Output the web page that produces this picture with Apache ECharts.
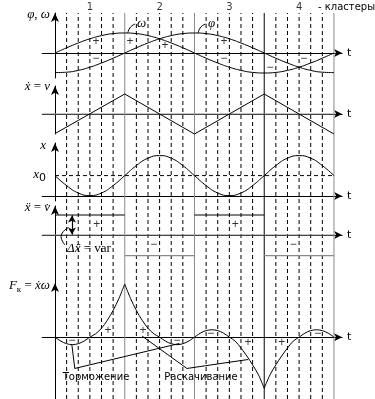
<!DOCTYPE html>
<html><head><meta charset="utf-8">
<script src="https://cdn.jsdelivr.net/npm/echarts@6/dist/echarts.min.js"></script>
<style>html,body{margin:0;padding:0;background:#fff}#c{width:375px;height:399px}</style>
</head><body><div id="c"></div>
<script>
// ---------- data ----------
const tInt = [0,1,2,3,4,5,6,7,8,9,10,11,12,13,14,15,16,17,18,19,20,21,22,23,24];
const omegaVals = [0,0.26,0.5,0.71,0.87,0.97,1,0.97,0.87,0.71,0.5,0.26,0,-0.26,-0.5,-0.71,-0.87,-0.97,-1,-0.97,-0.87,-0.71,-0.5,-0.26,0];
const phiVals = [-0.98,-0.96,-0.87,-0.71,-0.5,-0.26,0,0.26,0.5,0.71,0.87,0.97,1,0.97,0.87,0.71,0.5,0.26,0,-0.26,-0.5,-0.71,-0.87,-0.96,-0.98];
const vT = [0,6,12,18,24];
const vVals = [-0.98,1,-1,1,-1];
const xVals = [1.02,0.52,0.15,0.02,0.15,0.52,1.02,1.52,1.89,2.02,1.89,1.52,1.02,0.52,0.15,0.02,0.15,0.52,1.02,1.52,1.89,2.02,1.89,1.52,1.02];
const x0Level = 1.02;
const accelStart = [0,6,12,18];
const accelEnd = [6,12,18,24];
const accelLevel = [1.0,-1.03,1.0,-1.03];
const fT = [0,0.5,1,1.5,2,2.5,3,3.5,4,4.5,5,5.5,6,6.5,7,7.5,8,8.5,9,9.5,10,10.5,11,11.5,12,
            12.5,13,13.5,14,14.5,15,15.5,16,16.5,17,17.5,18,18.5,19,19.5,20,20.5,21,21.5,22,22.5,23,23.5,24];
const fVals = [0,-0.2,-0.33,-0.38,-0.33,-0.2,0,0.17,0.45,0.85,1.35,1.95,2.68,
               1.95,1.35,0.85,0.45,0.17,0,-0.2,-0.33,-0.38,-0.33,-0.2,0,
               0.2,0.33,0.37,0.33,0.2,0,-0.2,-0.55,-0.95,-1.4,-1.9,-2.58,
               -1.9,-1.4,-0.95,-0.55,-0.2,0,0.2,0.33,0.37,0.33,0.2,0];
const clusterT = [3,9,15,21];
const clusterLabels = ['1','2','3','4'];
// sign marks per panel: [t, value, text]
const marksPhi = [[3.53,0.55,'+'],[3.53,-0.3,'−'],[6.45,0.55,'+'],[9.46,0.35,'+'],[14.54,0.55,'+'],[14.54,-0.3,'−'],[18.5,-0.75,'−'],[21.4,-0.3,'−']];
const marksAcc = [[3.6,0.5,'+'],[8.5,-0.5,'−'],[15.5,0.5,'+'],[20.5,-0.5,'−']];
const marksF = [[1.46,-0.17,'−'],[4.56,0.33,'+'],[7.57,0.33,'+'],[10.5,-0.17,'−'],[13.4,0.17,'−'],[16.6,-0.27,'+'],[19.5,-0.27,'+'],[22.6,0.17,'−']];
// leader lines (data coords)
const leaderOmega = [[6.26,1.0],[6.5,1.3],[6.9,1.45]];
const leaderPhi = [[12.3,1.0],[12.55,1.3],[12.95,1.45]];
const leaderBrake = [[1.45,-0.38],[1.7,-1.58],[10.7,-0.32]];
const leaderSwing = [[7.5,0.05],[11.35,-1.58],[16.6,-1.13]];
const accArrow = [[1.46,0.98],[1.46,0.02]];
const accPointer = [[1.15,0.38],[0.52,-0.08],[0.86,-0.5]];

// ---------- layout ----------
const GRAY = '#8a8a8a';
const SANS = '"DejaVu Sans", sans-serif';
const SERIF = '"Liberation Serif", "DejaVu Serif", serif';
const GL = 42.21, GW = 299.89, XMIN = -1.1, XMAX = 24.7;
const panels = [
  {top:13, height:65, min:-1.25, max:2.0, color:'#000'},
  {top:86, height:48, min:-1, max:1.4, color:GRAY},
  {top:143, height:58, min:-0.25, max:2.65, color:'#000'},
  {top:206, height:77, min:-2.4, max:1.45, color:GRAY},
  {top:283, height:117, min:-3.12, max:2.73, color:'#000'}
];
const OV = 5;
const grids = panels.map(p => ({left:GL, width:GW, top:p.top, height:p.height}));
grids.push({left:GL, width:GW, top:0, height:399});
const xAxes = panels.map((p,i) => ({
  type:'value', gridIndex:i, min:XMIN, max:XMAX,
  axisLine:{show:true, onZero:true, symbol:['none','arrow'], symbolSize:[6,8], lineStyle:{color:'#000', width:1}},
  axisTick:{show:false}, axisLabel:{show:false}, splitLine:{show:false},
  name:'t', nameLocation:'end', nameGap:5,
  nameTextStyle:{fontFamily:SANS, fontSize:11, color:'#000', padding:[0,0,4,0]}
}));
xAxes.push({type:'value', gridIndex:OV, min:XMIN, max:XMAX, show:false});
const yAxes = panels.map((p,i) => ({
  type:'value', gridIndex:i, min:p.min, max:p.max,
  axisLine:{show:true, onZero:true, symbol:['none','arrow'], symbolSize:[6,9], lineStyle:{color:'#000', width:1}},
  axisTick:{show:false}, axisLabel:{show:false}, splitLine:{show:false}
}));
yAxes.push({type:'value', gridIndex:OV, min:0, max:1, show:false});

const series = [];
function line(gi, data, opt) {
  series.push(Object.assign({
    type:'line', xAxisIndex:gi, yAxisIndex:gi, data:data, symbol:'none',
    lineStyle:{color:'#000', width:1}, clip:false, silent:true, z:3, animation:false
  }, opt || {}));
}
const zip = (ts, vs) => ts.map((t,i) => [t, vs[i]]);

// gray time axes (panels 2 and 4) drawn over the black axis, leaving the arrowhead black
panels.forEach((p,i) => {
  if (p.color !== '#000') line(i, [[XMIN,0],[24.05,0]], {z:2, lineStyle:{color:p.color, width:1}});
});

// vertical cluster/sub-cluster lines
const lineTop = 1 - 13/399;
for (let t = 1; t <= 24; t++) {
  const solid = t % 6 === 0;
  line(OV, [[t,0],[t,lineTop]], {z:1, lineStyle:{color: solid ? (t===18 ? '#000' : GRAY) : '#000', width:1, type: solid ? 'solid' : [4,3]}});
}
// cluster numbers
series.push({type:'scatter', xAxisIndex:OV, yAxisIndex:OV, symbolSize:0.1, clip:false, silent:true,
  itemStyle:{color:'transparent'},
  data: clusterT.map((t,i) => ({value:[t, 1 - 7/399], name:clusterLabels[i]})),
  label:{show:true, position:'inside', formatter:'{b}', fontFamily:SANS, fontSize:10, color:'#000'}});

// panel 1: phi, omega
line(0, zip(tInt, omegaVals), {smooth:true});
line(0, zip(tInt, phiVals), {smooth:true});
line(0, leaderOmega, {smooth:true});
line(0, leaderPhi, {smooth:true});
// panel 2: velocity
line(1, zip(vT, vVals));
// panel 3: displacement
line(2, zip(tInt, xVals), {smooth:true});
line(2, [[0,x0Level],[24,x0Level]], {lineStyle:{color:'#000', width:1, type:[4,3]}});
// panel 4: acceleration steps
accelStart.forEach((s,i) => {
  line(3, [[s,accelLevel[i]],[accelEnd[i],accelLevel[i]]], {lineStyle:{color: accelLevel[i] > 0 ? '#000' : GRAY, width:1.2}});
});
line(3, accPointer, {smooth:true});
series.push({type:'line', xAxisIndex:3, yAxisIndex:3, data:[], silent:true,
  markLine:{silent:true, symbol:['arrow','arrow'], symbolSize:[6,7], label:{show:false},
    lineStyle:{color:'#000', width:1.2, type:'solid'},
    data:[[{coord:accArrow[0]},{coord:accArrow[1]}]], animation:false}});
// panel 5: Coriolis force, split at the cusps
for (let k = 0; k < 4; k++) {
  const seg = [];
  for (let j = k*12; j <= k*12+12; j++) seg.push([fT[j], fVals[j]]);
  line(4, seg, {smooth:0.35});
}
line(4, leaderBrake);
line(4, leaderSwing);

// sign marks
[[0,marksPhi],[3,marksAcc],[4,marksF]].forEach(([gi, marks]) => {
  series.push({type:'scatter', xAxisIndex:gi, yAxisIndex:gi, symbolSize:0.1, clip:false, silent:true, z:4,
    itemStyle:{color:'transparent'},
    data: marks.map(m => ({value:[m[0],m[1]], name:m[2]})),
    label:{show:true, position:'inside', formatter:'{b}', fontFamily:'"Liberation Sans", sans-serif', fontSize:12, color:'#000'}});
});

const richMath = {
  i:{fontFamily:SERIF, fontStyle:'italic', fontSize:13, color:'#000'},
  n:{fontFamily:SERIF, fontSize:13, color:'#000'},
  s:{fontFamily:SERIF, fontSize:9, color:'#000', padding:[7,0,0,0]},
  z:{fontFamily:SANS, fontSize:11, color:'#000', padding:[6,0,0,0]}
};
function mtext(x, y, text, align) {
  return {type:'text', x:x, y:y, silent:true, z:10,
    style:{text:text, rich:richMath, align:align||'right', verticalAlign:'middle', fill:'#000'}};
}
function stext(x, y, text, align) {
  return {type:'text', x:x, y:y, silent:true, z:10,
    style:{text:text, fontFamily:SANS, fontSize:10, align:align||'left', verticalAlign:'middle', fill:'#000'}};
}
const graphic = [
  mtext(50, 15, '{i|φ}{n|, }{i|ω}'),
  mtext(50, 87, '{i|ẋ}{n| = }{i|v}'),
  mtext(46, 146, '{i|x}'),
  mtext(46, 175, '{i|x}{z|0}'),
  mtext(50, 208, '{i|ẍ}{n| = }{i|v̇}'),
  mtext(50, 286, '{i|F}{s|к}{n| = }{i|ẋω}'),
  mtext(67, 249, '{i|Δẍ}{n| = var}', 'left'),
  mtext(137, 24, '{i|ω}', 'left'),
  mtext(208, 24, '{i|φ}', 'left'),
  stext(318, 7, '- кластеры'),
  stext(96, 377, 'Торможение', 'center'),
  stext(201, 377, 'Раскачивание', 'center')
];

const chart = echarts.init(document.getElementById('c'), null, {width:375, height:399});
chart.setOption({
  animation:false, backgroundColor:'#fff',
  grid:grids, xAxis:xAxes, yAxis:yAxes, series:series, graphic:graphic
});
</script></body></html>
